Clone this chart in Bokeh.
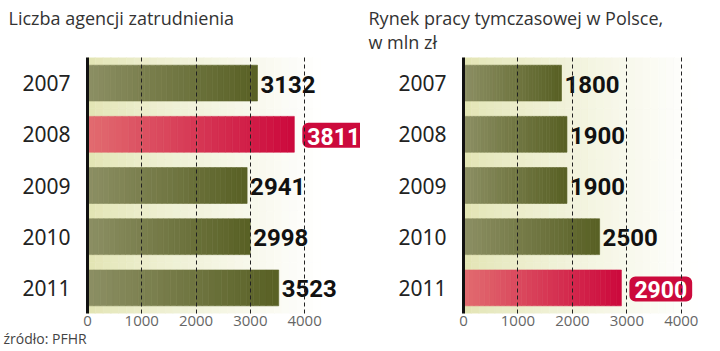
import numpy as np
from bokeh.plotting import figure
from bokeh.models import FactorRange, Range1d, FixedTicker, Title, ColumnDataSource
from bokeh.layouts import row
from bokeh.embed import file_html
from bokeh.resources import INLINE
from bokeh.core.properties import value

# ---- data ----
years = ["2007", "2008", "2009", "2010", "2011"]
agencies = [3132, 3811, 2941, 2998, 3523]
market = [1800, 1900, 1900, 2500, 2900]
hl_agencies = "2008"
hl_market = "2011"
ticks = [0, 1000, 2000, 3000, 4000]
title_left = "Liczba agencji zatrudnienia\n\u00a0"
title_right = "Rynek pracy tymczasowej w Polsce,\nw mln zł"
source_note = "źródło: PFHR"

# ---- styling ----
OLIVE_L = (0x8c, 0x8f, 0x64)
OLIVE_R = (0x58, 0x60, 0x24)
RED_L = (0xe2, 0x6c, 0x70)
RED_R = (0xcc, 0x08, 0x3c)
BG_L = (0xe2, 0xe4, 0xb2)
BG_R = (0xff, 0xff, 0xff)
BOX = "#cc0a3c"
NSL = 30
VFONT = value("Roboto")


def hexc(c):
    return "#%02x%02x%02x" % tuple(int(round(v)) for v in c)


def lerp(a, b, t):
    return hexc([a[i] + (b[i] - a[i]) * t for i in range(3)])


def make(title, vals, hl, border_left, x_end, source=None):
    p = figure(width=360, height=351,
               y_range=FactorRange(factors=list(reversed(years)), range_padding=0),
               x_range=Range1d(0, x_end),
               output_backend="svg", toolbar_location=None,
               min_border_left=border_left, min_border_right=0,
               min_border_top=57, min_border_bottom=38)
    p.outline_line_color = None
    p.background_fill_color = "white"
    p.border_fill_color = "white"

    # background gradient (in data units along x)
    bg_end = 4300
    e = np.linspace(0, bg_end, NSL + 1)
    bl, br, by, bc = [], [], [], []
    for y in years:
        for k in range(NSL):
            t = (k + 0.5) / NSL
            bl.append(e[k]); br.append(e[k + 1]); by.append(y)
            bc.append(lerp(BG_L, BG_R, min(1, t ** 0.8)))
    p.hbar(y="y", left="l", right="r", height=1.0, color="c", line_color="c", line_width=0.6,
           source=ColumnDataSource(dict(y=by, l=bl, r=br, c=bc)))

    # bars with gradient
    sl, sr, sy, sc = [], [], [], []
    for y, v in zip(years, vals):
        cl, cr = (RED_L, RED_R) if y == hl else (OLIVE_L, OLIVE_R)
        for k in range(NSL):
            t = (k + 0.5) / NSL
            sl.append(v * k / NSL); sr.append(v * (k + 1) / NSL); sy.append(y)
            sc.append(lerp(cl, cr, t))
    p.hbar(y="y", left="l", right="r", height=0.70, color="c", line_color="c", line_width=0.6,
           source=ColumnDataSource(dict(y=sy, l=sl, r=sr, c=sc)))

    # value labels
    nx = [v for y, v in zip(years, vals) if y != hl]
    ny = [y for y in years if y != hl]
    p.text(x=nx, y=ny, text=[str(v) for v in nx], x_offset=3, y_offset=1,
           text_font=VFONT, text_font_style="bold",
           text_font_size="24px", text_color="#111", text_baseline="middle", text_align="left")
    hx = [v for y, v in zip(years, vals) if y == hl]
    hy = [y for y in years if y == hl]
    p.text(x=hx, y=hy, text=[str(v) for v in hx], x_offset=8, y_offset=1,
           text_font=VFONT, text_font_style="bold",
           text_font_size="23px", text_color="white", text_baseline="middle", text_align="left",
           background_fill_color=BOX, padding=[5, 5, 5, 3], border_radius=6)

    # axes & grid
    p.xaxis.ticker = FixedTicker(ticks=ticks)
    p.xaxis.axis_line_color = None
    p.xaxis.major_tick_line_color = None
    p.xaxis.minor_tick_line_color = None
    p.xaxis.major_tick_in = 0
    p.xaxis.major_tick_out = 0
    p.xaxis.major_label_text_font = "Open Sans"
    p.xaxis.major_label_text_font_size = "15px"
    p.xaxis.major_label_text_color = "#666"
    p.xaxis.major_label_standoff = 2

    p.yaxis.axis_line_color = "#111"
    p.yaxis.axis_line_width = 3
    p.yaxis.major_tick_line_color = None
    p.yaxis.minor_tick_line_color = None
    p.yaxis.major_label_text_font = "Noto Sans"
    p.yaxis.major_label_text_font_size = "21px"
    p.yaxis.major_label_text_color = "#222"
    p.yaxis.major_label_standoff = 11

    p.ygrid.visible = False
    p.xgrid.ticker = FixedTicker(ticks=ticks[1:])
    p.xgrid.grid_line_color = "#222"
    p.xgrid.grid_line_dash = "4 3"
    p.xgrid.grid_line_width = 1
    p.xgrid.level = "overlay"

    p.title.text = title
    p.title.align = "left"
    p.title.offset = -(border_left - 8)
    p.title.vertical_align = "top"
    p.title.standoff = 4
    p.title.text_font = "Open Sans"
    p.title.text_font_style = "normal"
    p.title.text_font_size = "18px"
    p.title.text_color = "#333"

    if source:
        p.add_layout(Title(text=source, align="left", offset=-(border_left - 3), standoff=-4,
                           text_font="Open Sans", text_font_style="normal",
                           text_font_size="14px", text_color="#444"), "below")
    return p


p1 = make(title_left, agencies, hl_agencies, 87, 5030, source_note)
p2 = make(title_right, market, hl_market, 103, 4720)
p = row(p1, p2)
open("out.html", "w").write(file_html(p, INLINE))
